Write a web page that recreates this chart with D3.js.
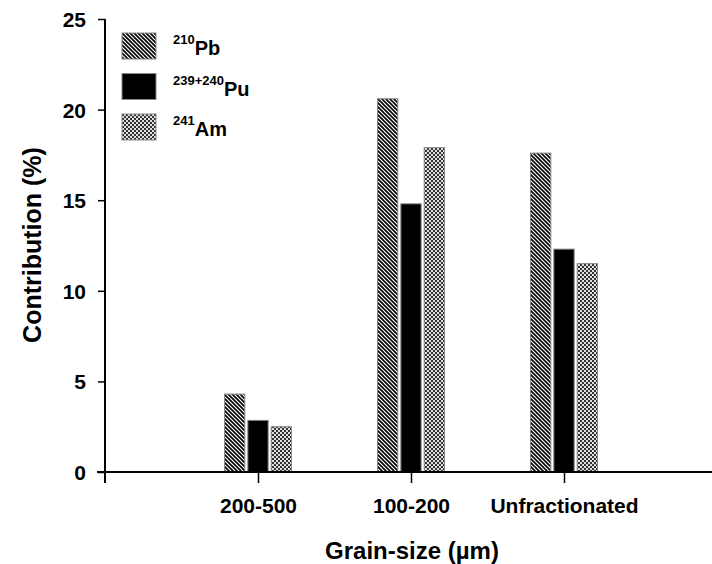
<!DOCTYPE html>
<html>
<head>
<meta charset="utf-8">
<script src="https://cdn.jsdelivr.net/npm/d3@7"></script>
<style>
  body { margin: 0; background: #fff; }
  text { font-family: "Liberation Sans", Arial, Helvetica, sans-serif; font-weight: bold; fill: #000; }
</style>
</head>
<body>
<div id="chart"></div>
<script>
// Chart data
const categories = ["200-500", "100-200", "Unfractionated"];
const series = ["Pb", "Pu", "Am"];
const seriesSup = ["210", "239+240", "241"];
const pbValues = [4.3, 20.6, 17.6];
const puValues = [2.85, 14.8, 12.3];
const amValues = [2.5, 17.9, 11.5];
const yTicks = [0, 5, 10, 15, 20, 25];

const valuesBySeries = { Pb: pbValues, Pu: puValues, Am: amValues };

const width = 712;
const height = 564;

const svg = d3.select("#chart")
  .append("svg")
  .attr("width", width)
  .attr("height", height);

// Patterns for the bar fills
const defs = svg.append("defs");

const stripes = defs.append("pattern")
  .attr("id", "stripes")
  .attr("patternUnits", "userSpaceOnUse")
  .attr("width", 4)
  .attr("height", 4);
stripes.append("rect").attr("width", 4).attr("height", 4).attr("fill", "#fff");
stripes.append("path")
  .attr("d", "M-1,-1 L5,5 M-1,3 L1,5 M3,-1 L5,1")
  .attr("stroke", "#000")
  .attr("stroke-width", 1.6);

const checks = defs.append("pattern")
  .attr("id", "checks")
  .attr("patternUnits", "userSpaceOnUse")
  .attr("width", 4)
  .attr("height", 4);
checks.append("rect").attr("width", 4).attr("height", 4).attr("fill", "#e0e0e0");
checks.append("rect").attr("x", 0).attr("y", 0).attr("width", 2).attr("height", 2).attr("fill", "#333");
checks.append("rect").attr("x", 2).attr("y", 2).attr("width", 2).attr("height", 2).attr("fill", "#333");

const fills = { Pb: "url(#stripes)", Pu: "#000", Am: "url(#checks)" };

// Scales
const x0 = 105;
const y0 = 472;

const xScale = d3.scalePoint()
  .domain(categories)
  .range([x0, 717])
  .padding(1);

const xInner = d3.scaleBand()
  .domain(series)
  .range([-33.5, 33.5])
  .paddingInner(0.13);

const yScale = d3.scaleLinear()
  .domain([0, 25])
  .range([y0, 19]);

// Bars
const groups = svg.selectAll(".group")
  .data(categories)
  .enter()
  .append("g")
  .attr("class", "group")
  .attr("transform", (d) => `translate(${xScale(d)},0)`);

groups.selectAll("rect")
  .data((d, i) => series.map((s) => ({ s: s, v: valuesBySeries[s][i] })))
  .enter()
  .append("rect")
  .attr("x", (d) => xInner(d.s))
  .attr("y", (d) => yScale(d.v))
  .attr("width", xInner.bandwidth())
  .attr("height", (d) => y0 - yScale(d.v))
  .attr("fill", (d) => fills[d.s])
  .attr("stroke", "#888")
  .attr("stroke-width", 1);

// Y axis
const yAxis = d3.axisLeft(yScale)
  .tickValues(yTicks)
  .tickSize(7)
  .tickPadding(12);

const yG = svg.append("g")
  .attr("transform", `translate(${x0},0)`)
  .call(yAxis);
yG.select(".domain").remove();
yG.selectAll(".tick line").attr("stroke", "#000").attr("stroke-width", 1.5);
yG.selectAll(".tick text")
  .style("font-size", "21px")
  .attr("dy", "0.36em");

svg.append("line")
  .attr("x1", x0).attr("x2", x0)
  .attr("y1", yScale(25)).attr("y2", y0 + 11)
  .attr("stroke", "#000")
  .attr("stroke-width", 2);

// X axis
const xAxis = d3.axisBottom(xScale)
  .tickSize(11);

const xG = svg.append("g")
  .attr("transform", `translate(0,${y0})`)
  .call(xAxis);
xG.select(".domain").remove();
xG.selectAll(".tick line").attr("stroke", "#000").attr("stroke-width", 1.5);
xG.selectAll(".tick text")
  .style("font-size", "21px")
  .attr("y", 41)
  .attr("dy", 0);

svg.append("line")
  .attr("x1", 97).attr("x2", width)
  .attr("y1", y0).attr("y2", y0)
  .attr("stroke", "#000")
  .attr("stroke-width", 2);

// Axis titles
svg.append("text")
  .attr("x", 412)
  .attr("y", 559)
  .attr("text-anchor", "middle")
  .style("font-size", "24px")
  .text("Grain-size (µm)");

svg.append("text")
  .attr("transform", "translate(41,245) rotate(-90)")
  .attr("text-anchor", "middle")
  .style("font-size", "25px")
  .text("Contribution (%)");

// Legend
const legend = svg.append("g").attr("id", "legend");

const legendItems = legend.selectAll(".item")
  .data(series)
  .enter()
  .append("g")
  .attr("class", "item")
  .attr("transform", (d, i) => `translate(122,${33 + i * 40.5})`);

legendItems.append("rect")
  .attr("width", 34)
  .attr("height", 26)
  .attr("fill", (d) => fills[d])
  .attr("stroke", "#888")
  .attr("stroke-width", 1);

const legendText = legendItems.append("text")
  .attr("x", 51)
  .attr("y", 22);

legendText.append("tspan")
  .attr("dy", -11)
  .style("font-size", "13px")
  .text((d, i) => seriesSup[i]);

legendText.append("tspan")
  .attr("dy", 11)
  .style("font-size", "20px")
  .text((d) => d);
</script>
</body>
</html>
